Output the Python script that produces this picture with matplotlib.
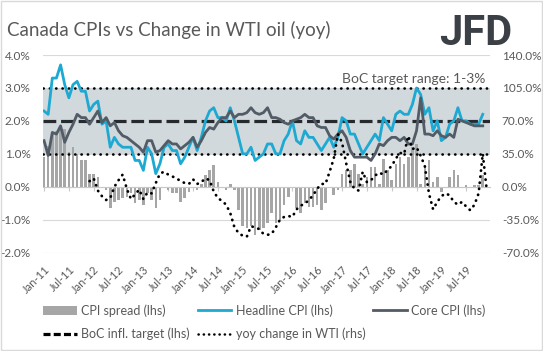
import numpy as np
import pandas as pd
import matplotlib
matplotlib.use('Agg')
import matplotlib.pyplot as plt
from matplotlib.patches import Patch, Rectangle
from matplotlib.lines import Line2D
from matplotlib.ticker import FuncFormatter

plt.rcParams['font.family'] = ['Lato', 'DejaVu Sans']

# monthly data, Jan-11 onwards
months = pd.date_range('2011-01-01', '2019-12-01', freq='MS')

headline = [2.3, 2.2, 3.3, 3.3, 3.7, 3.1, 2.7, 3.1, 3.2, 2.9, 2.9, 2.3,
            2.5, 2.6, 1.9, 2.0, 1.2, 1.5, 1.3, 1.2, 1.2, 1.2, 0.8, 0.8,
            0.5, 1.2, 1.0, 0.4, 0.7, 1.2, 1.3, 1.1, 1.1, 0.7, 0.9, 1.2,
            1.5, 1.1, 1.5, 2.0, 2.3, 2.4, 2.1, 2.1, 2.0, 2.4, 2.0, 1.5,
            1.0, 1.0, 1.2, 0.8, 0.9, 1.0, 1.3, 1.3, 1.0, 1.0, 1.4, 1.6,
            2.0, 1.4, 1.3, 1.7, 1.5, 1.5, 1.3, 1.1, 1.3, 1.5, 1.2, 1.5,
            2.1, 2.0, 1.6, 1.6, 1.3, 1.0, 1.2, 1.4, 1.6, 1.4, 2.1, 1.9,
            1.7, 2.2, 2.3, 2.2, 2.2, 2.5, 3.0, 2.8, 2.2, 2.4, 1.7, 2.0,
            1.4, 1.5, 1.9, 2.0, 2.4, 2.0, 2.0, 1.9, 1.9, 1.9, 2.2]

core = [1.4, 0.95, 1.65, 1.6, 1.85, 1.35, 1.65, 1.9, 2.2, 2.1, 2.1, 1.9,
        2.1, 2.3, 1.95, 2.1, 1.85, 1.95, 1.7, 1.55, 1.5, 1.4, 1.3, 1.2,
        1.05, 1.4, 1.4, 1.05, 1.1, 1.25, 1.4, 1.3, 1.3, 1.15, 1.25, 1.35,
        1.5, 1.2, 1.4, 1.65, 1.8, 1.75, 1.95, 2.1, 2.1, 2.3, 2.1, 2.2,
        2.2, 2.25, 2.4, 2.25, 2.2, 2.25, 2.4, 2.1, 2.1, 2.05, 1.95, 1.9,
        2.0, 2.05, 2.1, 2.2, 2.1, 2.1, 1.85, 1.8, 1.8, 1.55, 1.45, 1.6,
        1.7, 1.5, 1.1, 0.9, 0.9, 0.9, 0.9, 0.8, 1.0, 1.3, 1.25, 1.4,
        1.5, 1.5, 1.4, 1.5, 1.3, 1.3, 1.7, 2.7, 1.6, 1.6, 1.55, 1.7,
        1.55, 1.5, 1.6, 1.5, 2.05, 2.0, 1.95, 1.9, 1.85, 1.85, 1.85]

spread = [0.9, 1.25, 1.65, 1.7, 1.85, 1.75, 1.05, 1.2, 1.0, 0.8, 0.8, 0.4,
          0.4, 0.3, -0.05, -0.1, -0.65, -0.45, -0.4, -0.35, -0.3, -0.2, -0.5, -0.4,
          -0.55, -0.2, -0.4, -0.65, -0.4, -0.05, -0.1, -0.2, -0.2, -0.45, -0.35, -0.15,
          0.0, -0.1, 0.1, 0.35, 0.5, 0.65, 0.15, 0.0, -0.1, 0.1, -0.1, -0.7,
          -1.2, -1.25, -1.2, -1.45, -1.3, -1.25, -1.1, -0.8, -1.1, -1.05, -0.55, -0.3,
          0.0, -0.65, -0.8, -0.5, -0.6, -0.6, -0.55, -0.7, -0.5, -0.05, -0.25, -0.1,
          0.4, 0.5, 0.5, 0.7, 0.4, 0.1, 0.3, 0.6, 0.6, 0.1, 0.85, 0.5,
          0.2, 0.7, 0.9, 0.7, 0.9, 1.2, 1.3, 0.1, 0.6, 0.8, 0.15, 0.3,
          -0.15, 0.0, 0.3, 0.5, 0.35, 0.0, 0.05, 0.0, 0.05, 0.05, 0.35]

# yoy change in WTI (rhs, %), Dec-11 to Dec-19
wti_start = 11
wti = [6, 9, -4, -10, -14, -12, 0, 7, 13, -2, -13, -8,
       -3, -13, -6, -7, 4, 14, 16, 13, 11, 9, 6, 4,
       3, 8, 3, 5, 9, 7, -5, -12, -15, -19, -28, -43,
       -49, -52, -53, -42, -43, -45, -50, -51, -50, -43, -35, -32,
       -31, -32, -24, -20, -18, -14, -9, -2, 3, 3, 16, 30,
       56, 47, 25, 5, -2, -4, 16, 5, 7, 12, 15, 13,
       18, 22, 30, 36, 35, 54, 40, 42, 33, 22, -7, -24,
       -16, -10, -7, -9, -16, -19, -16, -21, -25, -19, -7, 35,
       -5]

boc_target = 2.0
target_range = (1.0, 3.0)

x_cpi = np.arange(len(headline))
x_wti = np.arange(wti_start, wti_start + len(wti))

c_head = '#1ea9d2'
c_core = '#525c66'
c_bar = '#a6a6a6'
c_text = '#595959'

fig = plt.figure(figsize=(5.43, 3.51), dpi=100)
ax = fig.add_axes([43 / 543, 1 - 252.7 / 351, 447 / 543, 197.7 / 351])
ax2 = ax.twinx()

# target band
ax.axhspan(target_range[0], target_range[1], color='#d2d9dd', zorder=1, lw=0)
for lvl in target_range:
    ax.axhline(lvl, color='black', lw=1.9, ls=(0, (0.1, 2.3)),
               dash_capstyle='round', zorder=3)
ax.axhline(boc_target, color='#262a2e', lw=2.3, ls=(0, (4, 1.5)), zorder=3)

ax.bar(x_cpi, spread, width=0.62, color=c_bar, zorder=2)
ax.plot(x_cpi, headline, color=c_head, lw=2.0, zorder=4)
ax.plot(x_cpi, core, color=c_core, lw=2.0, zorder=5)

ax2.plot(x_wti, wti, color='black', lw=2.0, ls=(0, (0.1, 2.1)),
         dash_capstyle='round', zorder=6)

ax.text(106.6, 3.08, 'BoC target range: 1-3%', ha='right', va='bottom',
        color=c_text, fontsize=10)

# axes
ax.set_xlim(-0.25, 107.75)
ax.set_ylim(-2, 4)
ax2.set_ylim(-70, 140)
ax.set_yticks(np.arange(-2, 5))
ax2.set_yticks(np.arange(-70, 141, 35))
ax.yaxis.set_major_formatter(FuncFormatter(lambda v, p: f'{v:.1f}%'))
ax2.yaxis.set_major_formatter(FuncFormatter(lambda v, p: f'{v:.1f}%'))
ax.grid(axis='y', color='#d9d9d9', lw=0.8, zorder=0)
ax.set_axisbelow(True)

for a in (ax, ax2):
    for s in ('top', 'left', 'right'):
        a.spines[s].set_visible(False)
ax2.spines['bottom'].set_visible(False)
ax.spines['bottom'].set_position(('data', 0))
ax.spines['bottom'].set_color('#c8c8c8')

ax.tick_params(axis='y', length=0, pad=9, labelsize=8.5, labelcolor=c_text)
ax2.tick_params(axis='y', length=0, pad=8.5, labelsize=8.5, labelcolor=c_text)

tick_pos = np.arange(0, len(months), 6)
ax.set_xticks(tick_pos)
ax.tick_params(axis='x', direction='out', length=3, color='#c8c8c8',
               labelbottom=False)

sec = ax.secondary_xaxis('bottom')
sec.set_xticks(tick_pos, [months[i].strftime('%b-%y') for i in tick_pos])
sec.spines['bottom'].set_visible(False)
sec.tick_params(length=0, pad=8, labelsize=8, labelcolor=c_text)
for lbl in sec.get_xticklabels():
    lbl.set_rotation(45)
    lbl.set_ha('right')
    lbl.set_va('top')
    lbl.set_rotation_mode('anchor')

# title and logo
fig.text(7 / 543, 1 - 36 / 351, 'Canada CPIs vs Change in WTI oil (yoy)',
         fontsize=13.5, color=c_text, va='baseline')
fig.text(512 / 543, 1 - 45 / 351, 'JFD', fontsize=30, fontweight='bold',
         family=['Roboto', 'DejaVu Sans'], color='#3b4046', ha='right',
         va='baseline')

# legend, filled column-wise
handles = [Patch(facecolor=c_bar),
           Line2D([], [], color='black', lw=2.3, ls=(0, (2.2, 1.0))),
           Line2D([], [], color=c_head, lw=2.0),
           Line2D([], [], color='black', lw=1.8, ls=(0, (0.1, 2.0)),
                  dash_capstyle='round'),
           Line2D([], [], color=c_core, lw=2.0)]
labels = ['CPI spread (lhs)', 'BoC infl. target (lhs)', 'Headline CPI (lhs)',
          'yoy change in WTI (rhs)', 'Core CPI (lhs)']
fig.legend(handles, labels, ncol=3, loc='upper left',
           bbox_to_anchor=(32 / 543, 1 - 293 / 351), frameon=False,
           fontsize=9, labelcolor=c_text, handlelength=2.7,
           handletextpad=0.35, columnspacing=0.6, labelspacing=0.85)

fig.add_artist(Rectangle((0.001, 0.002), 0.997, 0.995, transform=fig.transFigure,
                         fill=False, edgecolor='#d9d9d9', lw=1))

fig.savefig('out.png', dpi=100)
